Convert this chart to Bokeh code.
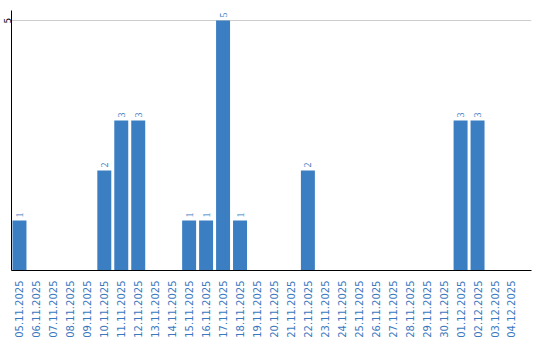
from bokeh.plotting import figure
from bokeh.models import Range1d, FixedTicker, ColumnDataSource
from bokeh.embed import file_html
from bokeh.resources import INLINE
import math

dates = ["05.11.2025", "06.11.2025", "07.11.2025", "08.11.2025", "09.11.2025",
         "10.11.2025", "11.11.2025", "12.11.2025", "13.11.2025", "14.11.2025",
         "15.11.2025", "16.11.2025", "17.11.2025", "18.11.2025", "19.11.2025",
         "20.11.2025", "21.11.2025", "22.11.2025", "23.11.2025", "24.11.2025",
         "25.11.2025", "26.11.2025", "27.11.2025", "28.11.2025", "29.11.2025",
         "30.11.2025", "01.12.2025", "02.12.2025", "03.12.2025", "04.12.2025"]
counts = [1, 0, 0, 0, 0, 2, 3, 3, 0, 0, 1, 1, 5, 1, 0, 0, 0, 2, 0, 0,
          0, 0, 0, 0, 0, 0, 3, 3, 0, 0]
y_ticks = [5]

BLUE = "#3b7ec2"
LABEL_BLUE = "#3a78c0"

idx = list(range(len(dates)))
src = ColumnDataSource(dict(x=idx, top=counts))
nz = [i for i in idx if counts[i] > 0]
lab_src = ColumnDataSource(dict(x=nz, y=[counts[i] for i in nz],
                                t=[str(counts[i]) for i in nz]))

p = figure(width=540, height=340, output_backend="svg", toolbar_location=None,
           x_range=Range1d(-0.47, len(dates) + 0.18), y_range=Range1d(0, 5.2),
           min_border_left=0, min_border_right=9, min_border_top=10, min_border_bottom=0)
p.outline_line_color = None
p.background_fill_color = "white"
p.border_fill_color = "white"

p.vbar(x="x", top="top", width=14 / 17, source=src, color=BLUE, line_color=None)
p.text(x="x", y="y", text="t", source=lab_src, angle=math.pi / 2,
       text_align="left", text_baseline="middle", x_offset=0, y_offset=-3,
       text_color=LABEL_BLUE, text_font_size="10px", text_font="DejaVu Sans")

p.xgrid.visible = False
p.ygrid.ticker = FixedTicker(ticks=y_ticks)
p.ygrid.grid_line_color = "#cccccc"

p.xaxis.ticker = FixedTicker(ticks=idx)
p.xaxis.major_label_overrides = {i: d for i, d in zip(idx, dates)}
p.xaxis.major_label_orientation = math.pi / 2
p.xaxis.major_label_text_color = LABEL_BLUE
p.xaxis.major_label_text_font = "DejaVu Sans"
p.xaxis.major_label_text_font_size = "10px"
p.xaxis.major_label_standoff = 10
p.xaxis.major_tick_out = 0
p.xaxis.major_tick_in = 0
p.xaxis.minor_tick_out = 0
p.xaxis.minor_tick_in = 0
p.xaxis.axis_line_color = "black"

p.yaxis.ticker = FixedTicker(ticks=y_ticks)
p.yaxis.major_label_orientation = "vertical"
p.yaxis.major_label_text_color = "black"
p.yaxis.major_label_text_font = "DejaVu Sans"
p.yaxis.major_label_text_font_size = "9px"
p.yaxis.major_label_standoff = 1
p.yaxis.major_tick_out = 0
p.yaxis.major_tick_in = 0
p.yaxis.minor_tick_out = 0
p.yaxis.minor_tick_in = 0
p.yaxis.axis_line_color = "black"

open("out.html", "w").write(file_html(p, INLINE))
